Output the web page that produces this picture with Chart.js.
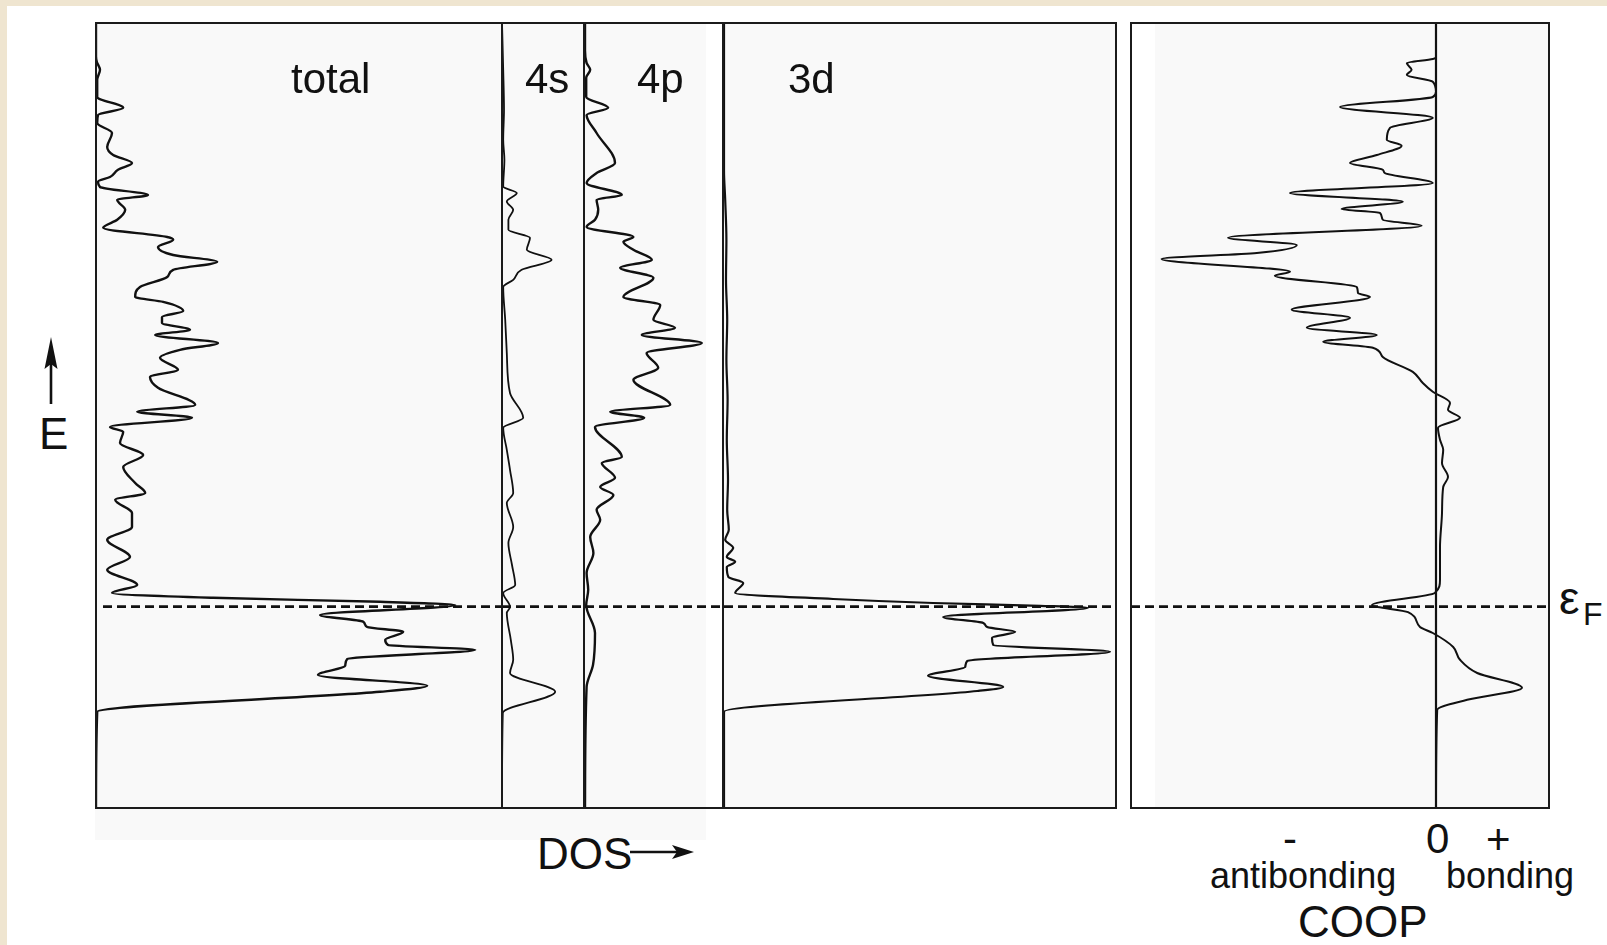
<!DOCTYPE html>
<html>
<head>
<meta charset="utf-8">
<title>DOS and COOP</title>
<script src="https://cdn.jsdelivr.net/npm/chart.js@4.4.1/dist/chart.umd.min.js"></script>
<style>
  html, body { margin: 0; padding: 0; }
  body {
    width: 1607px; height: 945px; position: relative; overflow: hidden;
    background: #efe5d0;
    font-family: "Liberation Sans", Arial, Helvetica, sans-serif;
    color: #111;
  }
  #stage { position: absolute; left: 0; top: 0; width: 1607px; height: 945px; }
  .sheet { position: absolute; left: 7px; top: 6px; right: 0; bottom: 0; background: #ffffff; }
  .shade { position: absolute; background: #f9f9f9; }
  .frame { position: absolute; box-sizing: border-box; border: 2px solid #1b1b1b; pointer-events: none; }
  .rule { position: absolute; background: #1b1b1b; width: 2px; pointer-events: none; }
  canvas { position: absolute; }
  .lbl { position: absolute; line-height: 1; white-space: nowrap; }
  svg.deco { position: absolute; left: 0; top: 0; pointer-events: none; }
</style>
</head>
<body>
<div id="stage">
  <div class="sheet"></div>
  <div class="shade" style="left:95px;top:22px;width:611px;height:818px;"></div>
  <div class="shade" style="left:724px;top:22px;width:393px;height:787px;"></div>
  <div class="shade" style="left:1155px;top:22px;width:394px;height:787px;"></div>
</div>
<script>
// Energy axis shared by all panels (eV, Fermi level at 0)
const E_MIN = -5.035;
const E_MAX = 14.59;
const FERMI = 0;

// Panel titles
const panelNames = ["total", "4s", "4p", "3d"];

// Total DOS
const eTotal = [14.59, 13.75, 13.62, 13.42, 13.17, 12.74, 12.47, 12.29, 12.09, 11.84, 11.49, 11.29, 11.09, 10.92, 10.74, 10.62, 10.49, 10.29, 10.17, 9.92, 9.67, 9.47, 9.24, 9.17, 8.99, 8.79, 8.62, 8.42, 8.24, 7.99, 7.74, 7.62, 7.39, 7.24, 7.09, 6.92, 6.79, 6.59, 6.42, 6.22, 5.92, 5.74, 5.47, 5.04, 4.87, 4.72, 4.49, 4.37, 4.09, 3.79, 3.49, 3.09, 2.84, 2.67, 2.34, 1.99, 1.67, 1.24, 0.92, 0.54, 0.34, 0.22, 0.12, 0.04, -0.21, -0.38, -0.51, -0.63, -0.83, -0.96, -1.08, -1.31, -1.48, -1.71, -1.98, -2.13, -2.63, -5.03];
const dosTotal = [0, 0, 0.02, 0.10, 0.03, 0.03, 0.68, 0.05, 0.03, 0.40, 0.28, 0.43, 0.90, 0.55, 0.35, 0.05, 0.10, 1.30, 0.53, 0.73, 0.53, 0.18, 1.78, 1.93, 1.55, 1.93, 3.03, 1.93, 1.78, 1.10, 0.98, 1.68, 2.18, 1.65, 1.65, 2.35, 1.48, 3.05, 2.10, 1.60, 2.05, 1.35, 1.55, 2.48, 1.03, 2.40, 0.35, 0.68, 0.60, 1.18, 0.68, 0.98, 1.23, 0.48, 0.90, 0.90, 0.28, 0.85, 0.28, 1.03, 0.40, 2.93, 7.10, 8.98, 5.60, 6.68, 6.78, 7.68, 7.23, 7.30, 9.48, 6.28, 6.23, 5.55, 8.28, 7.10, 0.03, 0];

// 4s projection
const e4s = [14.59, 13.42, 12.42, 11.67, 11.17, 10.50, 10.34, 10.13, 9.92, 9.67, 9.42, 9.22, 8.92, 8.67, 8.42, 8.17, 7.99, 7.17, 6.34, 5.34, 4.72, 4.47, 3.92, 3.42, 2.84, 2.59, 1.99, 1.59, 1.04, 0.54, 0.34, -0.01, -0.16, -0.83, -1.33, -1.66, -2.13, -2.66, -5.03];
const dos4s = [0, 0.03, 0.05, 0.03, 0.06, 0.03, 0.37, 0.12, 0.28, 0.16, 0.16, 0.70, 0.62, 1.24, 0.49, 0.28, 0.03, 0.08, 0.12, 0.20, 0.53, 0.03, 0.12, 0.20, 0.28, 0.12, 0.28, 0.16, 0.25, 0.33, 0.03, 0.20, 0.12, 0.22, 0.28, 0.20, 1.33, 0.02, 0];

// 4p projection
const e4p = [14.59, 13.90, 13.59, 13.42, 13.22, 12.74, 12.47, 12.29, 11.84, 11.09, 10.84, 10.59, 10.29, 10.17, 9.92, 9.67, 9.49, 9.24, 9.12, 8.92, 8.67, 8.47, 8.22, 7.74, 7.54, 7.17, 6.97, 6.79, 6.59, 6.34, 5.97, 5.67, 5.04, 4.87, 4.72, 4.49, 3.74, 3.59, 3.22, 2.99, 2.79, 2.42, 2.17, 1.74, 1.34, 0.84, 0.42, 0.04, -0.66, -1.46, -2.01, -5.03];
const dos4p = [0, 0, 0.04, 0.13, 0.03, 0.03, 0.58, 0.04, 0.29, 0.75, 0.29, 0.04, 0.92, 0.29, 0.33, 0.25, 0.04, 1.21, 0.96, 1.21, 1.67, 0.88, 1.71, 0.96, 1.88, 1.71, 2.25, 1.42, 2.92, 1.54, 1.83, 1.21, 2.13, 0.63, 1.48, 0.25, 0.92, 0.42, 0.75, 0.38, 0.71, 0.29, 0.38, 0.13, 0.21, 0.04, 0.08, 0.03, 0.25, 0.20, 0.04, 0];

// 3d projection
const e3d = [14.59, 10.90, 10.17, 9.17, 8.17, 7.17, 6.17, 5.17, 4.17, 3.17, 2.42, 1.92, 1.67, 1.47, 1.24, 1.12, 0.99, 0.74, 0.59, 0.34, 0.19, 0.09, 0.02, -0.03, -0.26, -0.41, -0.51, -0.63, -0.78, -0.96, -1.13, -1.36, -1.51, -1.73, -2.01, -2.11, -2.63, -5.03];
const dos3d = [0, 0, 0.03, 0.06, 0.05, 0.08, 0.06, 0.09, 0.07, 0.10, 0.08, 0.12, 0.03, 0.23, 0.07, 0.28, 0.07, 0.11, 0.48, 0.28, 2.73, 5.23, 7.90, 9.10, 5.48, 6.48, 6.58, 7.28, 6.70, 6.73, 9.65, 6.08, 6.03, 5.10, 6.98, 6.33, 0, 0];

// Crystal orbital overlap population (negative = antibonding)
const eCoop = [14.59, 13.74, 13.69, 13.59, 13.42, 13.29, 13.12, 12.87, 12.74, 12.49, 12.22, 11.97, 11.67, 11.52, 11.29, 11.09, 10.92, 10.84, 10.59, 10.34, 10.12, 9.94, 9.84, 9.67, 9.52, 9.22, 9.04, 8.84, 8.69, 8.37, 8.27, 7.99, 7.84, 7.74, 7.42, 7.22, 6.97, 6.79, 6.62, 6.47, 6.24, 5.87, 5.59, 5.37, 5.09, 4.92, 4.72, 4.47, 4.17, 3.92, 3.59, 3.24, 2.99, 2.34, 1.49, 0.67, 0.34, 0.04, -0.14, -0.51, -0.66, -1.01, -1.33, -1.66, -2.03, -2.33, -2.58, -5.03];
const coop = [0, 0, -0.08, -0.73, -0.61, -0.73, -0.08, 0, -0.08, -2.40, -0.08, -1.15, -1.23, -0.86, -1.48, -2.15, -1.33, -1.28, -0.08, -3.65, -0.83, -2.36, -1.40, -1.33, -0.36, -5.20, -3.48, -4.48, -6.86, -3.65, -4.03, -1.98, -1.95, -1.65, -3.61, -2.15, -3.23, -1.48, -2.82, -1.58, -1.33, -0.58, -0.33, -0.08, 0.35, 0.30, 0.60, 0.05, 0.10, 0.18, 0.15, 0.30, 0.18, 0.15, 0.10, 0.10, -0.03, -1.60, -0.70, -0.40, -0.08, 0.43, 0.60, 1.03, 2.15, 0.78, 0.03, 0];

const INK = "#111111";

function toPoints(energies, values) {
  return values.map((v, i) => ({ x: v, y: energies[i] }));
}

function curve(energies, values, width) {
  return {
    data: toPoints(energies, values),
    borderColor: INK,
    borderWidth: width,
    pointRadius: 0,
    cubicInterpolationMode: "monotone",
    fill: false
  };
}

function fermiLine(xFrom, xTo) {
  return {
    data: [{ x: xFrom, y: FERMI }, { x: xTo, y: FERMI }],
    borderColor: INK,
    borderWidth: 2.9,
    borderDash: [9, 5],
    pointRadius: 0,
    tension: 0,
    fill: false
  };
}

function panel(box, xMin, xMax, datasets) {
  const stage = document.getElementById("stage");
  const cv = document.createElement("canvas");
  cv.width = box.w; cv.height = box.h;
  cv.style.left = box.x + "px"; cv.style.top = box.y + "px";
  cv.style.width = box.w + "px"; cv.style.height = box.h + "px";
  stage.appendChild(cv);
  return new Chart(cv, {
    type: "line",
    data: { datasets },
    options: {
      indexAxis: "y",
      responsive: false,
      animation: false,
      devicePixelRatio: 1,
      events: [],
      layout: { padding: 0 },
      plugins: { legend: { display: false }, tooltip: { enabled: false }, title: { display: false } },
      scales: {
        x: { type: "linear", min: xMin, max: xMax, display: false },
        y: { type: "linear", min: E_MIN, max: E_MAX, display: false }
      }
    }
  });
}

// DOS panels: 40 px per state/eV, 40 px per eV
const PX = 40;
const panelTop = 23, panelHeight = 785;
const boxTotal = { x: 96, y: panelTop, w: 405, h: panelHeight };
const box4s = { x: 502, y: panelTop, w: 82, h: panelHeight };
const box4p = { x: 585, y: panelTop, w: 138, h: panelHeight };
const box3d = { x: 724, y: panelTop, w: 392, h: panelHeight };
const boxCoop = { x: 1131, y: panelTop, w: 418, h: panelHeight };

panel(boxTotal, 0, boxTotal.w / PX, [curve(eTotal, dosTotal, 2.4), fermiLine(7 / PX, boxTotal.w / PX)]);
panel(box4s, 0, box4s.w / PX, [curve(e4s, dos4s, 1.8), fermiLine(0, box4s.w / PX)]);
panel(box4p, 0, box4p.w / PX, [curve(e4p, dos4p, 2.4), fermiLine(0, box4p.w / PX)]);
panel(box3d, 0, box3d.w / PX, [curve(e3d, dos3d, 2.2), fermiLine(0, box3d.w / PX)]);

const coopMin = -305 / PX, coopMax = (boxCoop.w - 305) / PX;
panel(boxCoop, coopMin, coopMax, [
  { data: [{ x: 0, y: E_MAX }, { x: 0, y: E_MIN }], borderColor: INK, borderWidth: 2.2, pointRadius: 0, tension: 0 },
  curve(eCoop, coop, 2.0),
  fermiLine(coopMin, coopMax)
]);

// Frames and panel separators
function addDiv(cls, style) {
  const d = document.createElement("div");
  d.className = cls; d.style.cssText = style;
  document.getElementById("stage").appendChild(d);
  return d;
}
addDiv("frame", "left:95px;top:22px;width:1022px;height:787px;");
addDiv("rule", "left:501px;top:22px;height:787px;");
addDiv("rule", "left:583px;top:22px;height:787px;");
addDiv("rule", "left:722px;top:22px;height:787px;");
addDiv("frame", "left:1130px;top:22px;width:420px;height:787px;");

// Text placed by left edge and baseline
function label(text, left, baseline, size, extra) {
  const d = addDiv("lbl", "left:" + left + "px;top:" + (baseline - 0.8466 * size).toFixed(1) + "px;font-size:" + size + "px;" + (extra || ""));
  d.textContent = text;
  return d;
}
label(panelNames[0], 291, 93.5, 42);
label(panelNames[1], 525, 93.5, 42);
label(panelNames[2], 637, 93.5, 42);
label(panelNames[3], 788, 93.5, 42);
label("E", 39, 449, 44);
label("DOS", 537, 869, 44);
label("-", 1283, 854, 42);
label("0", 1426, 854, 42);
label("+", 1486, 855, 42);
label("antibonding", 1210, 888, 36);
label("bonding", 1446, 888, 36);
label("COOP", 1298, 937, 44);
label("\u03B5", 1559, 614, 46);
label("F", 1583, 625, 32);

// Axis arrows
const svgNS = "http://www.w3.org/2000/svg";
const svg = document.createElementNS(svgNS, "svg");
svg.setAttribute("class", "deco");
svg.setAttribute("width", "1607"); svg.setAttribute("height", "945");
svg.innerHTML =
  '<line x1="51" y1="404" x2="51" y2="362" stroke="#111" stroke-width="2.6"/>' +
  '<polygon points="51,337 44.5,369 51,364 57.5,369" fill="#111"/>' +
  '<line x1="630" y1="852" x2="680" y2="852" stroke="#111" stroke-width="2.6"/>' +
  '<polygon points="694,852 672,845 677,852 672,859" fill="#111"/>';
document.getElementById("stage").appendChild(svg);
</script>
</body>
</html>
